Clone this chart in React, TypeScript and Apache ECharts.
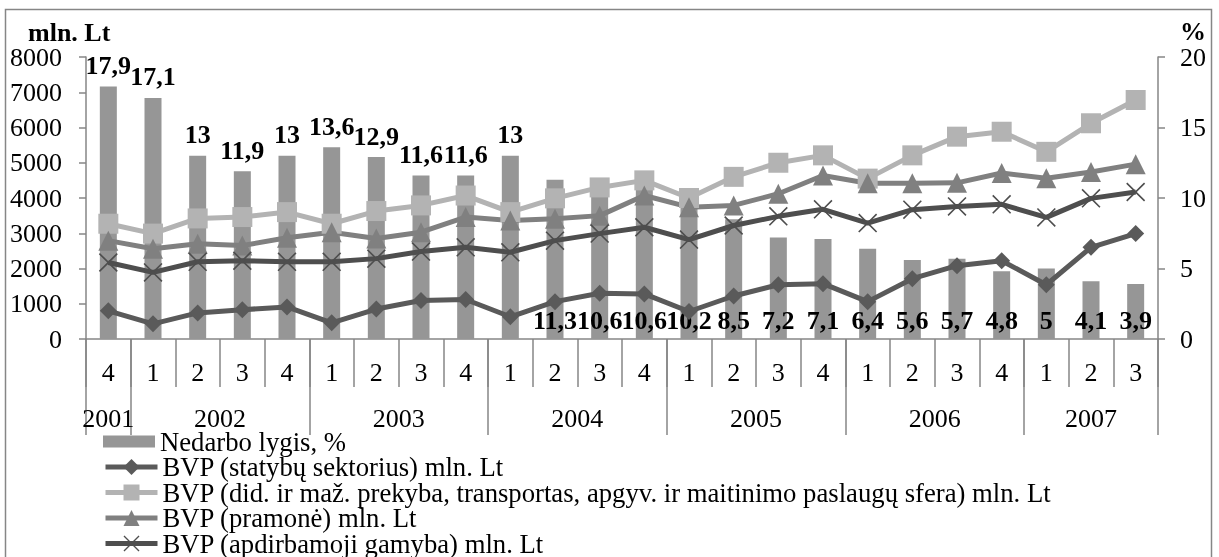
import React, { useEffect, useRef } from 'react';
import * as echarts from 'echarts';

const FONT = "'Liberation Serif', 'Times New Roman', serif";
const AXIS_COLOR = '#868686';

// Category axis: quarters of each year
const quarters = ['4', '1', '2', '3', '4', '1', '2', '3', '4', '1', '2', '3', '4', '1', '2', '3', '4', '1', '2', '3', '4', '1', '2', '3'];
const years = ['2001', '2002', '2003', '2004', '2005', '2006', '2007'];
const yearBoundaries = [0, 1, 5, 9, 13, 17, 21, 24];
const yearCenters = [0.5, 3, 7, 11, 15, 19, 22.5];

// Series
const unemployment = [17.9, 17.1, 13, 11.9, 13, 13.6, 12.9, 11.6, 11.6, 13, 11.3, 10.6, 10.6, 10.2, 8.5, 7.2, 7.1, 6.4, 5.6, 5.7, 4.8, 5, 4.1, 3.9];
const construction = [800, 430, 740, 830, 910, 460, 850, 1090, 1120, 630, 1060, 1300, 1280, 780, 1220, 1540, 1570, 1060, 1710, 2080, 2220, 1540, 2600, 2990];
const tradeServices = [3270, 2990, 3420, 3460, 3600, 3270, 3630, 3790, 4070, 3600, 3990, 4300, 4500, 4000, 4600, 5000, 5210, 4550, 5210, 5740, 5880, 5310, 6120, 6780];
const industry = [2790, 2560, 2700, 2650, 2870, 3030, 2850, 3030, 3460, 3360, 3410, 3500, 4070, 3740, 3790, 4120, 4640, 4420, 4420, 4430, 4710, 4560, 4740, 4960];
const manufacturing = [2170, 1890, 2190, 2220, 2190, 2190, 2280, 2480, 2600, 2460, 2790, 2990, 3170, 2820, 3220, 3480, 3680, 3290, 3670, 3760, 3820, 3450, 3990, 4170];
const topLabelCount = 10;

const names = [
  'Nedarbo lygis, %',
  'BVP (statybų sektorius) mln. Lt',
  'BVP (did. ir maž. prekyba, transportas, apgyv. ir maitinimo paslaugų sfera) mln. Lt',
  'BVP (pramonė) mln. Lt',
  'BVP (apdirbamoji gamyba) mln. Lt',
];

const X_PATH = 'path://M0,1.2 L1.2,0 L10,8.8 L18.8,0 L20,1.2 L11.2,10 L20,18.8 L18.8,20 L10,11.2 L1.2,20 L0,18.8 L8.8,10 Z';
const BAR_ICON = 'path://M0,0 L0,0 M0,4 L52,4 L52,16 L0,16 Z M0,20 L0,20';

export default function App() {
  const ref = useRef<HTMLDivElement>(null);
  useEffect(() => {
    const chart = echarts.init(ref.current!, null, { renderer: 'svg' });
    const lineSeries = (name: string, data: number[], color: string, symbol: string, size: number) => ({
      name,
      type: 'line',
      yAxisIndex: 0,
      data,
      symbol,
      symbolSize: size,
      lineStyle: { color, width: 5 },
      itemStyle: { color },
    });
    const legends = names.map((n, i) => ({
      orient: 'vertical',
      left: 103,
      top: 428 + i * 25.5,
      padding: 0,
      itemWidth: 52,
      itemHeight: 20,
      itemGap: 0,
      selectedMode: false,
      lineStyle: { width: 5 },
      textStyle: { fontSize: 26.7, fontFamily: FONT, color: '#000', lineHeight: 24 },
      data: [i === 0 ? { name: n, icon: BAR_ICON } : n],
    }));
    chart.setOption({
      animation: false,
      textStyle: { fontFamily: FONT },
      grid: { left: 86, right: 61, top: 57, bottom: 218 },
      xAxis: [
        {
          type: 'category',
          data: quarters,
          boundaryGap: true,
          axisLine: { lineStyle: { color: AXIS_COLOR, width: 1.5 } },
          axisTick: { show: true, interval: 0, length: 48, lineStyle: { color: AXIS_COLOR, width: 1.5 } },
          axisLabel: { interval: 0, margin: 20, fontSize: 26, fontFamily: FONT, color: '#000' },
        },
        {
          type: 'value',
          position: 'bottom',
          min: 0,
          max: 24,
          axisLine: { show: false },
          splitLine: { show: false },
          axisTick: { show: true, customValues: yearBoundaries, length: 96, lineStyle: { color: AXIS_COLOR, width: 1.5 } },
          axisLabel: {
            customValues: yearCenters,
            margin: 69,
            fontSize: 26,
            lineHeight: 20,
            fontFamily: FONT,
            color: '#000',
            formatter: (v: number) => {
              const i = yearCenters.indexOf(v);
              return i >= 0 ? years[i] : '';
            },
          },
        },
      ],
      yAxis: [
        {
          type: 'value',
          min: 0,
          max: 8000,
          interval: 1000,
          axisLine: { show: true, lineStyle: { color: AXIS_COLOR, width: 1.5 } },
          axisTick: { show: true, length: 7, lineStyle: { color: AXIS_COLOR, width: 1.5 } },
          splitLine: { show: false },
          axisLabel: { margin: 24, fontSize: 26, lineHeight: 22, fontFamily: FONT, color: '#000', formatter: (v: number) => String(v) },
        },
        {
          type: 'value',
          min: 0,
          max: 20,
          interval: 5,
          position: 'right',
          axisLine: { show: true, lineStyle: { color: AXIS_COLOR, width: 1.5 } },
          axisTick: { show: true, length: 7, lineStyle: { color: AXIS_COLOR, width: 1.5 } },
          splitLine: { show: false },
          axisLabel: { margin: 22, fontSize: 26, lineHeight: 22, fontFamily: FONT, color: '#000', formatter: (v: number) => String(v) },
        },
      ],
      legend: legends,
      series: [
        {
          name: names[0],
          type: 'bar',
          yAxisIndex: 1,
          barWidth: 17,
          itemStyle: { color: '#969696' },
          data: unemployment.map((v, i) => ({
            value: v,
            label: {
              show: true,
              position: i < topLabelCount ? 'top' : 'insideBottom',
              distance: i < topLabelCount ? 8 : 6,
            },
          })),
          label: {
            fontSize: 26,
            fontWeight: 'bold',
            fontFamily: FONT,
            color: '#000',
            formatter: (p: any) => String(p.value).replace('.', ','),
          },
          z: 1,
        },
        lineSeries(names[1], construction, '#5a5a5a', 'diamond', 17),
        lineSeries(names[2], tradeServices, '#b3b3b3', 'rect', 20),
        lineSeries(names[3], industry, '#808080', 'triangle', 20),
        lineSeries(names[4], manufacturing, '#4e4e4e', X_PATH, 19),
      ],
      graphic: [
        {
          type: 'rect',
          shape: { x: 5.5, y: 9.5, width: 1206, height: 600 },
          style: { fill: 'none', stroke: AXIS_COLOR, lineWidth: 1.5 },
          silent: true,
        },
        {
          type: 'text',
          left: 28,
          top: 19,
          style: { text: 'mln. Lt', font: `bold 26px ${FONT}`, fill: '#000' },
        },
        {
          type: 'text',
          left: 1180,
          top: 18,
          style: { text: '%', font: `bold 26px ${FONT}`, fill: '#000' },
        },
      ],
    });
    return () => chart.dispose();
  }, []);
  return <div ref={ref} style={{ position: 'fixed', left: 0, top: 0, width: 1219, height: 557 }} />;
}
